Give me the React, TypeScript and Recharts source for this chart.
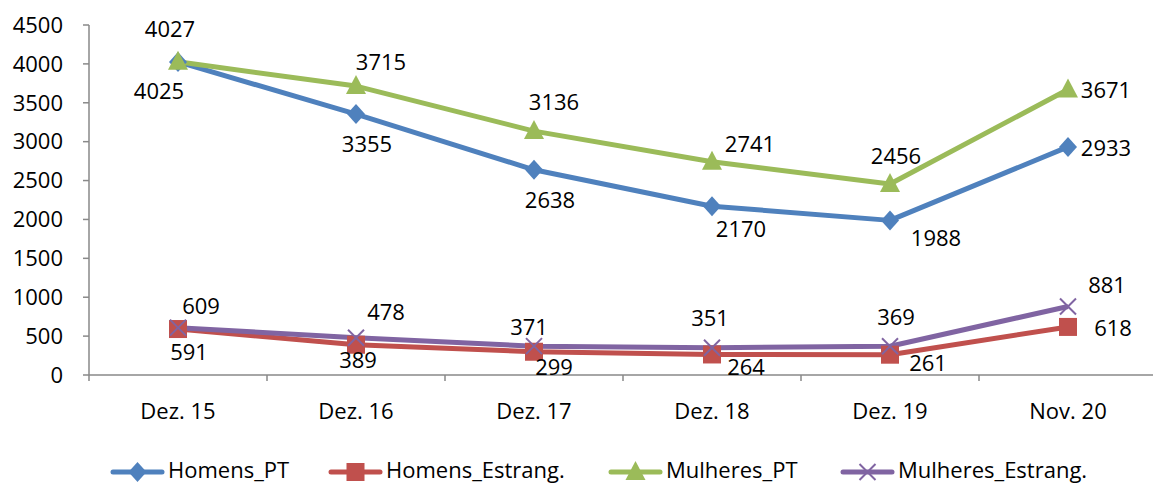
import React from 'react';
import { LineChart, Line, XAxis, YAxis } from 'recharts';

const categories = ['Dez. 15', 'Dez. 16', 'Dez. 17', 'Dez. 18', 'Dez. 19', 'Nov. 20'];
const homensPT = [4025, 3355, 2638, 2170, 1988, 2933];
const homensEstrang = [591, 389, 299, 264, 261, 618];
const mulheresPT = [4027, 3715, 3136, 2741, 2456, 3671];
const mulheresEstrang = [609, 478, 371, 351, 369, 881];
const yTicks = [0, 500, 1000, 1500, 2000, 2500, 3000, 3500, 4000, 4500];

// where each data label sits relative to its point (Excel placed them by hand-ish)
const labelOffsets: Record<string, [number, number][]> = {
  homensPT: [[-19, 28], [11, 29], [16, 29], [29, 22], [46, 17], [38, 0]],
  homensEstrang: [[11, 22], [2, 14], [20, 14], [34, 12], [38, 7], [45, 0]],
  mulheresPT: [[-8, -34], [25, -25], [20, -30], [38, -19], [6, -29], [38, 0]],
  mulheresEstrang: [[23, -23], [30, -27], [-5, -20], [-2, -31], [6, -30], [39, -22]],
};

const data = categories.map((name, i) => ({
  name,
  homensPT: homensPT[i],
  homensEstrang: homensEstrang[i],
  mulheresPT: mulheresPT[i],
  mulheresEstrang: mulheresEstrang[i],
}));

const FONT = '"Open Sans", sans-serif';
const FONT_SIZE = 22;
const AXIS_COLOR = '#898989';
const CHART_W = 1160;
const Y_AXIS_W = 89;
const MARGIN_RIGHT = 3;
const BAND = (CHART_W - Y_AXIS_W - MARGIN_RIGHT) / categories.length;

type Kind = 'diamond' | 'square' | 'triangle' | 'cross';

const series: { key: string; name: string; color: string; kind: Kind; legendX: number }[] = [
  { key: 'homensPT', name: 'Homens_PT', color: '#4F81BD', kind: 'diamond', legendX: 110 },
  { key: 'homensEstrang', name: 'Homens_Estrang.', color: '#C0504D', kind: 'square', legendX: 328 },
  { key: 'mulheresPT', name: 'Mulheres_PT', color: '#9BBB59', kind: 'triangle', legendX: 608 },
  { key: 'mulheresEstrang', name: 'Mulheres_Estrang.', color: '#8064A2', kind: 'cross', legendX: 840 },
];

function marker(kind: Kind, cx: number, cy: number, color: string, key?: string) {
  if (kind === 'diamond') {
    return <polygon key={key} points={`${cx},${cy - 10} ${cx + 9},${cy} ${cx},${cy + 10} ${cx - 9},${cy}`} fill={color} />;
  }
  if (kind === 'square') {
    return <rect key={key} x={cx - 9} y={cy - 9} width={18} height={18} fill={color} />;
  }
  if (kind === 'triangle') {
    return <polygon key={key} points={`${cx},${cy - 11} ${cx + 10},${cy + 8} ${cx - 10},${cy + 8}`} fill={color} />;
  }
  return (
    <g key={key}>
      <line x1={cx - 8} y1={cy - 8} x2={cx + 8} y2={cy + 8} stroke={color} strokeWidth={2} />
      <line x1={cx - 8} y1={cy + 8} x2={cx + 8} y2={cy - 8} stroke={color} strokeWidth={2} />
    </g>
  );
}

const XTick = (props: any) => {
  const { x, y, payload } = props;
  const bx = x - BAND / 2;
  return (
    <g>
      <line x1={bx} y1={y - 6} x2={bx} y2={y} stroke={AXIS_COLOR} strokeWidth={1.5} />
      <text x={x} y={y + 29} textAnchor="middle" dominantBaseline="central" fontFamily={FONT} fontSize={FONT_SIZE} fill="#000">
        {payload.value}
      </text>
    </g>
  );
};

const ChartLegend = () => (
  <div style={{ position: 'absolute', left: 0, top: 457, width: 1153, height: 24, fontFamily: FONT, fontSize: FONT_SIZE, color: '#000' }}>
    {series.map((s) => (
      <div
        key={s.key}
        style={{ position: 'absolute', left: s.legendX, top: 0, height: 24, display: 'flex', alignItems: 'center', gap: 3, whiteSpace: 'nowrap' }}
      >
        <svg width={55} height={24} style={{ display: 'block', marginTop: 6 }}>
          <line x1={3} y1={12} x2={52} y2={12} stroke={s.color} strokeWidth={5} strokeLinecap="round" />
          {marker(s.kind, 27.5, 12, s.color)}
        </svg>
        <span style={{ lineHeight: '22px' }}>{s.name}</span>
      </div>
    ))}
  </div>
);

export default function App() {
  return (
    <div style={{ position: 'absolute', left: 0, top: 0, width: 1153, height: 483, overflow: 'hidden', background: '#fff' }}>
      <LineChart width={CHART_W} height={483} data={data} margin={{ top: 25, right: MARGIN_RIGHT, left: 0, bottom: 0 }}>
        <XAxis
          dataKey="name"
          scale="band"
          height={108}
          stroke={AXIS_COLOR}
          strokeWidth={1.5}
          tickLine={false}
          tickSize={6}
          tickMargin={0}
          interval={0}
          tick={<XTick />}
        />
        <YAxis
          width={Y_AXIS_W}
          domain={[0, 4500]}
          ticks={yTicks}
          interval={0}
          stroke={AXIS_COLOR}
          strokeWidth={1.5}
          tickSize={6}
          tickMargin={20}
          tick={{ fill: '#000', fontFamily: FONT, fontSize: FONT_SIZE }}
        />
        {series.map((s) => (
          <Line
            key={s.key}
            dataKey={s.key}
            name={s.name}
            stroke={s.color}
            strokeWidth={5}
            strokeLinejoin="round"
            isAnimationActive={false}
            dot={(p: any) => marker(s.kind, p.cx, p.cy, s.color, `${s.key}-dot-${p.index}`)}
            activeDot={false}
            label={(p: any) => {
              const [dx, dy] = labelOffsets[s.key][p.index];
              return (
                <text
                  key={`${s.key}-lbl-${p.index}`}
                  x={p.x + dx}
                  y={p.y + dy}
                  textAnchor="middle"
                  dominantBaseline="central"
                  fontFamily={FONT}
                  fontSize={FONT_SIZE}
                  fill="#000"
                >
                  {p.value}
                </text>
              );
            }}
          />
        ))}
      </LineChart>
      <ChartLegend />
    </div>
  );
}
